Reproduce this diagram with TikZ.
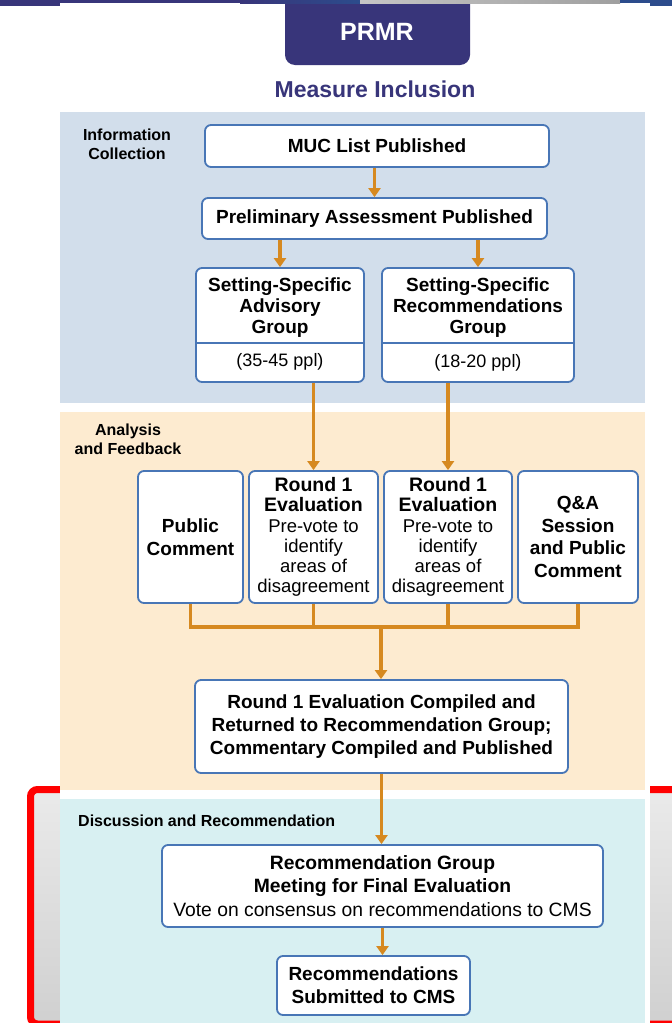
\documentclass[tikz,border=0pt]{standalone}
\usepackage{fontspec}
\setmainfont{Liberation Sans}
\usetikzlibrary{arrows.meta}

\definecolor{navy}{RGB}{56,53,122}
\definecolor{steel}{RGB}{44,76,140}
\definecolor{panelblue}{RGB}{210,222,235}
\definecolor{panelpeach}{RGB}{253,235,208}
\definecolor{panelcyan}{RGB}{216,240,242}
\definecolor{boxedge}{RGB}{72,118,182}
\definecolor{flow}{RGB}{214,137,32}
\definecolor{framegrayA}{RGB}{234,234,234}
\definecolor{framegrayB}{RGB}{208,208,208}

\tikzset{
  box/.style={draw=boxedge, line width=1.8pt, fill=white, rounded corners=6pt,
    inner sep=0pt, align=center, font=\bfseries\fontsize{19}{23}\selectfont},
  boxtext/.style={inner sep=0pt, align=center},
  steplbl/.style={inner sep=0pt, align=center, font=\bfseries\fontsize{16}{19}\selectfont},
  flowline/.style={draw=flow, line width=3.8pt, line join=miter},
  flowarrow/.style={flowline, -{Triangle[width=12pt,length=9pt]}},
  divider/.style={draw=boxedge, line width=1.8pt}
}
\newcommand{\evalhead}[1]{{\bfseries\fontsize{19.5}{20.2}\selectfont #1}}

\begin{document}
\begin{tikzpicture}[x=1pt,y=-1pt]
\useasboundingbox (0,0) rectangle (672,1023);
\fill[white] (0,0) rectangle (672,1023);

% title tab and header strip
\fill[navy, rounded corners=10pt] (285,-20) rectangle (470,65);
\fill[navy] (0,0) rectangle (240,3);
\fill[navy] (0,0) rectangle (60,6);
\shade[left color=navy, right color=steel] (240,0) rectangle (360,3);
\shade[left color=gray!45, right color=gray!75] (360,0) rectangle (620,3);
\fill[steel] (620,0) rectangle (672,3);
\fill[steel] (650,0) rectangle (672,6);
\node[text=white, font=\bfseries\fontsize{25}{30}\selectfont] (prmr) at (377,32) {PRMR};
\node[text=navy, font=\bfseries\fontsize{23}{28}\selectfont] (measure) at (375,89) {Measure Inclusion};

% red highlight frame behind the last stage
\draw[red, line width=7pt, rounded corners=7pt, top color=framegrayA, bottom color=framegrayB]
  (30.5,789.5) rectangle (700,1024);
\fill[white] (60,786) rectangle (650,1023);

% stage panels
\fill[panelblue] (60,112) rectangle (645,403);
\fill[panelpeach] (60,412) rectangle (645,790);
\fill[panelcyan] (60,799) rectangle (645,1023);

\node[steplbl] (infolbl) at (127,144.5) {Information\\Collection};
\node[steplbl] (analbl) at (128,439) {Analysis\\and Feedback};
\node[steplbl, anchor=west] (disclbl) at (78,821) {Discussion and Recommendation};

% information collection
\node[box, minimum width=344pt, minimum height=42pt] (muc) at (377,146) {MUC List Published};
\node[box, minimum width=345pt, minimum height=41pt] (pre) at (374.5,218.5) {Preliminary Assessment Published};

\node[box, minimum width=168pt, minimum height=114pt] (adv) at (280,325) {};
\node[boxtext, font=\bfseries\fontsize{19}{21}\selectfont] (advt) at (280,308) {Setting-Specific\\Advisory\\Group};
\node[boxtext, font=\fontsize{18}{21}\selectfont] (advn) at (280,362) {(35-45 ppl)};
\draw[divider] (adv.west |- 0,343) -- (adv.east |- 0,343);

\node[box, minimum width=192pt, minimum height=114pt] (rec) at (478,325) {};
\node[boxtext, font=\bfseries\fontsize{19}{21}\selectfont] (rect) at (478,308) {Setting-Specific\\Recommendations\\Group};
\node[boxtext, font=\fontsize{18}{21}\selectfont] (recn) at (478,363) {(18-20 ppl)};
\draw[divider] (rec.west |- 0,343) -- (rec.east |- 0,343);

% analysis and feedback
\node[box, minimum width=105pt, minimum height=132pt] (pc) at (190.5,537) {Public\\Comment};
\node[box, minimum width=129pt, minimum height=132pt, font=\fontsize{18.5}{20.2}\selectfont] (r1a) at (313.5,537)
  {\evalhead{Round 1}\\\evalhead{Evaluation}\\Pre-vote to\\identify\\areas of\\disagreement};
\node[box, minimum width=128pt, minimum height=132pt, font=\fontsize{18.5}{20.2}\selectfont] (r1b) at (448,537)
  {\evalhead{Round 1}\\\evalhead{Evaluation}\\Pre-vote to\\identify\\areas of\\disagreement};
\node[box, minimum width=120pt, minimum height=132pt, font=\bfseries\fontsize{19}{22.7}\selectfont] (qa) at (578,537)
  {Q\&A\\Session\\and Public\\Comment};
\coordinate (join) at (381,627);

\node[box, minimum width=373pt, minimum height=93pt] (comp) at (381.5,726.5)
  {Round 1 Evaluation Compiled and\\Returned to Recommendation Group;\\Commentary Compiled and Published};

% discussion and recommendation
\node[box, minimum width=441pt, minimum height=82pt, font=\fontsize{19.3}{23.5}\selectfont] (recg) at (382.5,886)
  {\textbf{Recommendation Group}\\\textbf{Meeting for Final Evaluation}\\Vote on consensus on recommendations to CMS};
\node[box, minimum width=193pt, minimum height=59pt] (final) at (373.5,985.5)
  {Recommendations\\Submitted to CMS};

% connectors
\draw[flowarrow] (pre.north |- muc.south) -- (pre.north);
\draw[flowarrow] (adv.north |- pre.south) -- (adv.north);
\draw[flowarrow] (rec.north |- pre.south) -- (rec.north);
\draw[flowarrow] (r1a.north |- adv.south) -- (r1a.north);
\draw[flowarrow] (r1b.north |- rec.south) -- (r1b.north);
\draw[flowline] (pc.south) |- (qa.south |- join) -- (qa.south);
\draw[flowline] (r1a.south) -- (r1a.south |- join);
\draw[flowline] (r1b.south) -- (r1b.south |- join);
\draw[flowarrow] (join) -- (join |- comp.north);
\draw[flowarrow] (comp.south) -- (comp.south |- recg.north);
\draw[flowarrow] (recg.south) -- (recg.south |- final.north);
\end{tikzpicture}
\end{document}
